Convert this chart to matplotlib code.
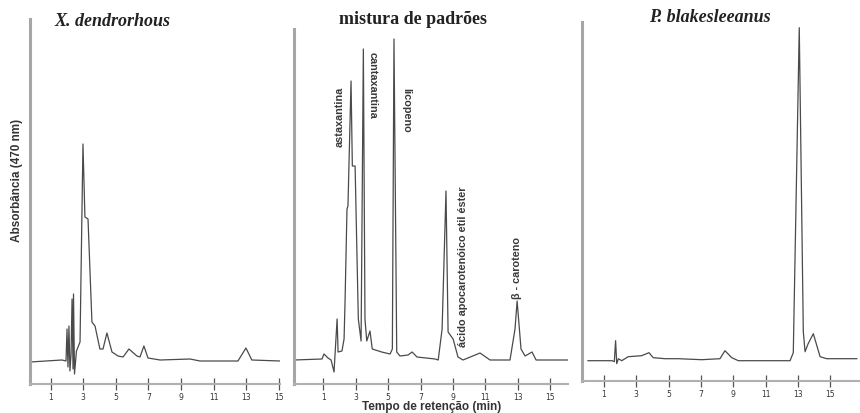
import matplotlib.pyplot as plt

# retention time (min) and absorbance (arbitrary units)
t_xd = [-0.27, 1.69, 1.94, 2.00, 2.06, 2.12, 2.18, 2.25, 2.31, 2.37, 2.40, 2.46,
        2.58, 2.80, 2.98, 3.10, 3.29, 3.53, 3.72, 4.02, 4.21, 4.45, 4.76, 5.13,
        5.44, 5.80, 6.29, 6.48, 6.72, 6.97, 7.71, 9.55, 10.16, 12.49, 12.98,
        13.34, 15.07]
a_xd = [0, 2, 1, 33, -5, 36, -9, 8, 63, -7, 68, -12,
        11, 20, 218, 145, 143, 40, 36, 13, 13, 29, 10, 6,
        5, 13, 6, 5, 16, 4, 2, 3, 1, 1, 14,
        2, 1]

t_mix = [-0.81, 0.92, 1.04, 1.29, 1.48, 1.66, 1.85, 1.91, 2.15, 2.28, 2.34, 2.46,
         2.52, 2.71, 2.79, 2.96, 3.16, 3.33, 3.47, 3.57, 3.68, 3.88, 4.02, 4.60,
         5.12, 5.26, 5.36, 5.53, 5.73, 6.23, 6.48, 6.78, 7.90, 8.09, 8.33, 8.57,
         8.70, 9.01, 9.31, 9.62, 10.67, 11.29, 12.52, 12.83, 12.96, 13.20, 13.45,
         13.88, 14.13, 16.10]
a_mix = [0, 1, 6, 2, 0, -12, 41, 8, 9, 21, 58, 151,
         154, 279, 194, 194, 41, 19, 311, 41, 19, 29, 11, 8,
         6, 11, 321, 8, 4, 5, 8, 3, 1, 0, 31, 169,
         28, 21, 3, 0, 7, 0, 0, 31, 59, 11, 4,
         8, 0, 0]

t_pb = [0.01, 1.50, 1.64, 1.72, 1.79, 1.89, 2.10, 2.50, 3.33, 3.79, 4.05, 4.78,
        5.60, 7.05, 8.18, 8.49, 8.91, 9.32, 12.52, 12.72, 13.09, 13.34, 13.45,
        13.64, 13.96, 14.38, 14.79, 16.65]
a_pb = [0, 0, -1, 20, -3, 2, 0, 4, 5, 8, 3, 2,
        2, 1, 2, 10, 3, 0, 0, 8, 333, 29, 9,
        17, 27, 4, 2, 2]

tick_min = [1, 3, 5, 7, 9, 11, 13, 15]

# peak labels in the standards mix: (text, time, absorbance, rotation)
mix_labels = [
    ("astaxantina", 2.03, 244, 90),
    ("cantaxantina", 4.07, 276, -90),
    ("licopeno", 6.10, 251, -90),
    ("ácido apocarotenóico etil éster", 9.62, 94, 90),
    ("β - caroteno", 12.96, 93, 90),
]

W, H = 860, 414
fig = plt.figure(figsize=(W / 100, H / 100), dpi=100)


def add_panel(left, right, top, bottom, xlim, ylim):
    ax = fig.add_axes([left / W, 1 - bottom / H, (right - left) / W, (bottom - top) / H])
    ax.set_xlim(*xlim)
    ax.set_ylim(*ylim)
    for side in ("top", "right"):
        ax.spines[side].set_visible(False)
    ax.spines["left"].set_color("#a6a6a6")
    ax.spines["left"].set_linewidth(2.2)
    ax.spines["bottom"].set_color("#b0b0b0")
    ax.spines["bottom"].set_linewidth(1.5)
    ax.set_yticks([])
    ax.set_xticks(tick_min)
    ax.set_xticklabels([str(t) for t in tick_min])
    ax.tick_params(axis="x", direction="inout", length=9, width=0.9, color="#555555",
                   labelsize=5.5, pad=1, labelcolor="#333333")
    ax.patch.set_alpha(0)
    return ax


ax1 = add_panel(30, 280, 20, 385, (-0.27, 15.07), (-22, 343))
ax1.plot(t_xd, a_xd, color="#4a4a4a", lw=0.9)

ax2 = add_panel(294, 568, 30, 385, (-0.81, 16.1), (-24, 331))
ax2.plot(t_mix, a_mix, color="#4a4a4a", lw=0.9)
for text, tx, ty, rot in mix_labels:
    ax2.text(tx, ty, text, rotation=rot, ha="center", va="center",
             fontsize=7.8, weight="bold", color="#3a3a3a", family="Liberation Sans")

ax3 = add_panel(582, 860, 23, 382, (-0.36, 16.85), (-20.3, 338.7))
ax3.plot(t_pb, a_pb, color="#4a4a4a", lw=0.9)

title_kw = dict(ha="center", va="center", fontsize=13, weight="bold",
                family="Liberation Serif", color="#222222")
fig.text(112 / W, 1 - 22 / H, "X. dendrorhous", style="italic", **title_kw)
fig.text(413 / W, 1 - 20 / H, "mistura de padrões", **title_kw)
fig.text(710 / W, 1 - 18 / H, "P. blakesleeanus", style="italic", **title_kw)

fig.text(17 / W, 1 - 180 / H, "Absorbância (470 nm)", rotation=90, ha="center",
         va="center", fontsize=8.5, weight="bold", color="#333333",
         family="Liberation Sans")
fig.text(432 / W, 1 - 407 / H, "Tempo de retenção (min)", ha="center", va="center",
         fontsize=8.5, weight="bold", color="#333333", family="Liberation Sans")

fig.savefig("out.png", dpi=100)
